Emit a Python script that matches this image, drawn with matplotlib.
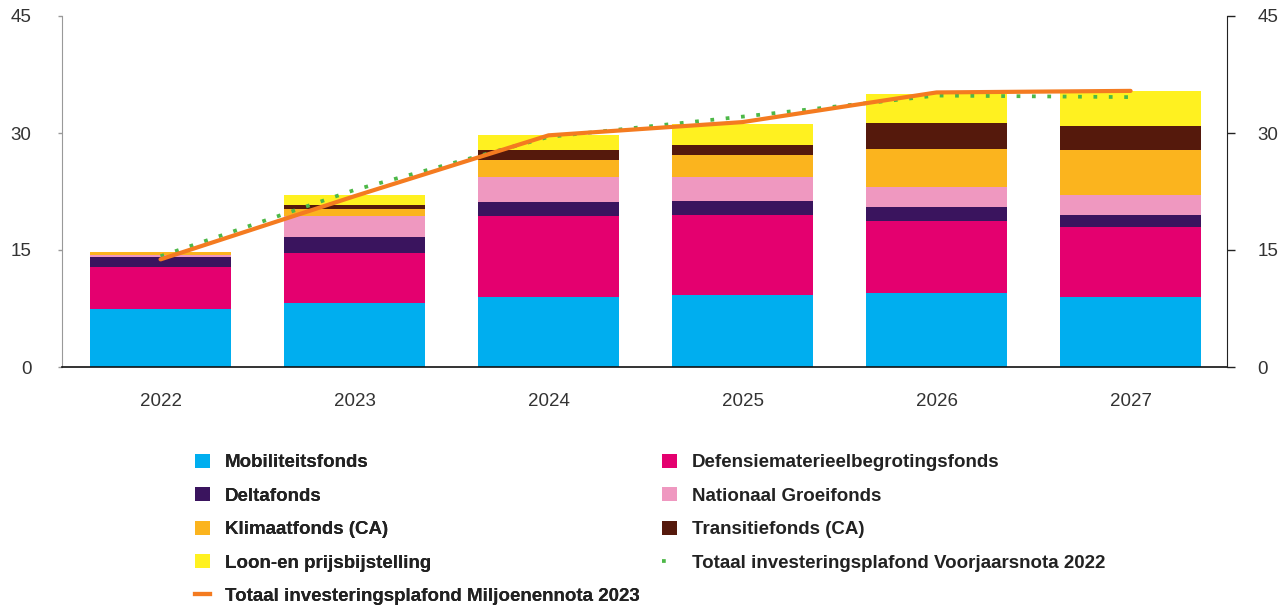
import matplotlib.pyplot as plt
import numpy as np
from matplotlib.patches import Patch
from matplotlib.lines import Line2D

years = ['2022', '2023', '2024', '2025', '2026', '2027']

# stacked components (bn euro), bottom to top
mobiliteit = [7.4, 8.2, 9.0, 9.2, 9.5, 9.0]
defensie = [5.4, 6.4, 10.3, 10.3, 9.2, 9.0]
delta = [1.3, 2.1, 1.8, 1.8, 1.8, 1.5]
groei = [0.2, 2.6, 3.3, 3.1, 2.6, 2.6]
klimaat = [0.4, 1.0, 2.1, 2.8, 4.9, 5.7]
transitie = [0.0, 0.5, 1.3, 1.3, 3.3, 3.1]
loon = [0.0, 1.2, 1.9, 2.7, 3.7, 4.5]

# totals
voorjaarsnota = [14.2, 22.7, 29.5, 32.1, 34.8, 34.6]
miljoenennota = [13.8, 21.9, 29.7, 31.4, 35.2, 35.4]

series = [
    ('Mobiliteitsfonds', mobiliteit, '#00aeef'),
    ('Defensiematerieelbegrotingsfonds', defensie, '#e4006f'),
    ('Deltafonds', delta, '#3a145e'),
    ('Nationaal Groeifonds', groei, '#ef98c0'),
    ('Klimaatfonds (CA)', klimaat, '#fbb41e'),
    ('Transitiefonds (CA)', transitie, '#55190c'),
    ('Loon-en prijsbijstelling', loon, '#fff120'),
]
green = '#4db848'
orange = '#f47b20'

plt.rcParams['font.family'] = ['Liberation Sans', 'DejaVu Sans']
tick_size = 13.5
leg_font = {'family': ['Liberation Sans', 'DejaVu Sans'],
            'weight': 'bold', 'size': 13.5}

fig = plt.figure(figsize=(12.83, 6.05), dpi=100)
ax = fig.add_axes([62/1283, 1 - 367/605, (1227-62)/1283, (367-16)/605])

x = np.arange(len(years))
bottom = np.zeros(len(years))
handles = {}
for name, vals, col in series:
    ax.bar(x, vals, width=0.727, bottom=bottom, color=col, linewidth=0, zorder=2)
    bottom += np.array(vals)
    handles[name] = Patch(facecolor=col, edgecolor='none')

ax.plot(x, voorjaarsnota, color=green, lw=2.7, linestyle=(0, (1, 3.1)),
        dash_capstyle='butt', zorder=3)
ax.plot(x, miljoenennota, color=orange, lw=3, solid_capstyle='round', zorder=4)

ax.set_xlim(-0.508, 5.497)
ax.set_ylim(0, 45)
ax.set_yticks([0, 15, 30, 45])
ax.set_xticks(x)
ax.set_xticklabels(years)
ax.tick_params(axis='x', length=0, pad=19, labelsize=tick_size, labelcolor='#333333')
ax.tick_params(axis='y', length=3, width=1, pad=19, labelsize=tick_size,
               labelcolor='#333333', color='#999999')
for s in ['top', 'right']:
    ax.spines[s].set_visible(False)
ax.spines['left'].set_color('#999999')
ax.spines['bottom'].set_color('#111111')
ax.spines['bottom'].set_linewidth(1.2)

ax2 = ax.twinx()
ax2.set_ylim(0, 45)
ax2.set_yticks([0, 15, 30, 45])
ax2.tick_params(axis='y', length=6, width=1, pad=16, labelsize=tick_size,
                labelcolor='#333333', color='#222222')
for s in ['top', 'left', 'bottom']:
    ax2.spines[s].set_visible(False)
ax2.spines['right'].set_color('#222222')

h_voor = Line2D([], [], color=green, lw=2.7, linestyle=(0, (1, 20)), dash_capstyle='butt')
h_milj = Line2D([], [], color=orange, lw=3)

col1 = ['Mobiliteitsfonds', 'Deltafonds', 'Klimaatfonds (CA)', 'Loon-en prijsbijstelling']
col2 = ['Defensiematerieelbegrotingsfonds', 'Nationaal Groeifonds', 'Transitiefonds (CA)']

leg_kw = dict(loc='upper left', frameon=False, prop=leg_font, handlelength=0.8,
              handleheight=0.8, handletextpad=0.8, labelspacing=0.84,
              borderaxespad=0, borderpad=0.3)
leg1 = fig.legend([handles[n] for n in col1] + [h_milj],
                  col1 + ['Totaal investeringsplafond Miljoenennota 2023'],
                  bbox_to_anchor=(189/1283, 1 - 448/605), **leg_kw)
for t in leg1.get_texts():
    t.set_color('#222222')
leg2 = fig.legend([handles[n] for n in col2] + [h_voor],
                  col2 + ['Totaal investeringsplafond Voorjaarsnota 2022'],
                  bbox_to_anchor=(656/1283, 1 - 448/605), **leg_kw)
for t in leg2.get_texts():
    t.set_color('#222222')
fig.add_artist(leg1)

fig.savefig('out.png', dpi=100)
